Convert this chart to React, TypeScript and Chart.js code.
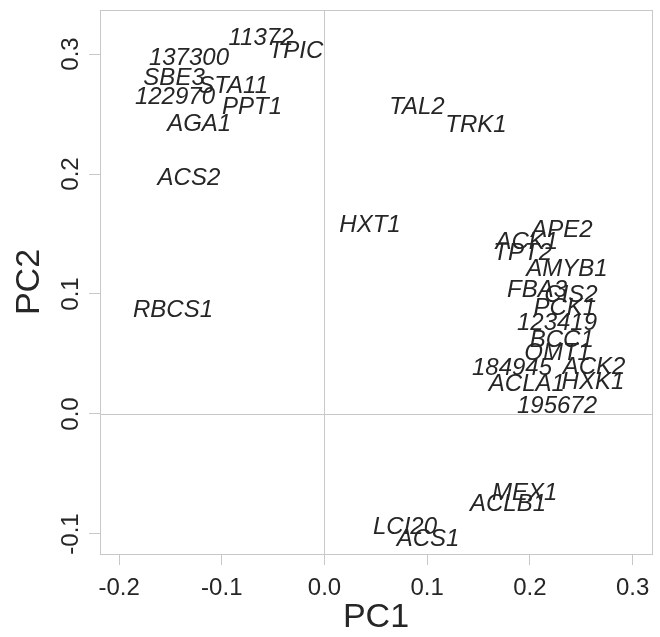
import React, { useEffect, useRef } from "react";
import { Chart, registerables } from "chart.js";
Chart.register(...registerables);

const genes = [
  "11372", "TPIC", "137300", "SBE3", "STA11", "122970", "PPT1", "AGA1",
  "ACS2", "RBCS1", "TAL2", "TRK1", "HXT1", "APE2", "ACK1", "TPT2",
  "AMYB1", "FBA3", "CIS2", "PCK1", "123419", "BCC1", "OMT1", "184945",
  "ACK2", "ACLA1", "HXK1", "195672", "MEX1", "ACLB1", "LCI20", "ACS1",
];
const pc1 = [
  -0.0618, -0.0278, -0.132, -0.1465, -0.089, -0.1456, -0.0706, -0.122,
  -0.132, -0.1475, 0.09, 0.1475, 0.0443, 0.2313, 0.197, 0.193,
  0.236, 0.207, 0.24, 0.234, 0.2264, 0.231, 0.227, 0.1826,
  0.2624, 0.197, 0.2614, 0.2264, 0.195, 0.1787, 0.0784, 0.1008,
];
const pc2 = [
  0.314, 0.303, 0.297, 0.281, 0.274, 0.265, 0.256, 0.2425,
  0.1975, 0.0875, 0.256, 0.2417, 0.158, 0.154, 0.144, 0.135,
  0.1217, 0.104, 0.1, 0.089, 0.0767, 0.0625, 0.0517, 0.039,
  0.04, 0.0258, 0.0275, 0.0075, -0.065, -0.0742, -0.094, -0.1033,
];
const xTickValues = [-0.2, -0.1, 0, 0.1, 0.2, 0.3];
const xTickLabels = ["-0.2", "-0.1", "0.0", "0.1", "0.2", "0.3"];
const yTickValues = [-0.1, 0, 0.1, 0.2, 0.3];
const yTickLabels = ["-0.1", "0.0", "0.1", "0.2", "0.3"];
const xRange = [-0.2186, 0.3189];
const yRange = [-0.1167, 0.3367];
const xTitle = "PC1";
const yTitle = "PC2";

const FONT = "'Liberation Sans', Arial, Helvetica, sans-serif";
const TEXT = "#262626";
const LINE = "#c8c8c8";

export default function App() {
  const ref = useRef<HTMLCanvasElement>(null);
  useEffect(() => {
    const plugin = {
      id: "pcaText",
      beforeDatasetsDraw(chart: any) {
        const { ctx, chartArea: a, scales } = chart;
        ctx.save();
        ctx.strokeStyle = LINE;
        ctx.lineWidth = 1;
        const x0 = Math.round(scales.x.getPixelForValue(0)) + 0.5;
        const y0 = Math.round(scales.y.getPixelForValue(0)) + 0.5;
        ctx.beginPath();
        ctx.moveTo(x0, a.top);
        ctx.lineTo(x0, a.bottom);
        ctx.moveTo(a.left, y0);
        ctx.lineTo(a.right, y0);
        ctx.stroke();
        ctx.strokeRect(Math.round(a.left) + 0.5, Math.round(a.top) + 0.5, Math.round(a.right - a.left), Math.round(a.bottom - a.top));
        ctx.restore();
      },
      afterDatasetsDraw(chart: any) {
        const { ctx, chartArea: a, scales } = chart;
        const meta = chart.getDatasetMeta(0);
        ctx.save();
        ctx.fillStyle = TEXT;
        ctx.textAlign = "center";
        ctx.textBaseline = "middle";
        ctx.font = `italic 24px ${FONT}`;
        meta.data.forEach((el: any, i: number) => {
          ctx.fillText(genes[i], el.x, el.y + 1);
        });
        // x tick labels
        ctx.font = `24px ${FONT}`;
        xTickValues.forEach((v, i) => {
          ctx.fillText(xTickLabels[i], scales.x.getPixelForValue(v), 588);
        });
        // y tick labels rotated
        yTickValues.forEach((v, i) => {
          ctx.save();
          ctx.translate(71, scales.y.getPixelForValue(v));
          ctx.rotate(-Math.PI / 2);
          ctx.fillText(yTickLabels[i], 0, 0);
          ctx.restore();
        });
        // titles
        ctx.font = `34px ${FONT}`;
        ctx.fillText(xTitle, (a.left + a.right) / 2, 618);
        ctx.save();
        ctx.translate(30, (a.top + a.bottom) / 2);
        ctx.rotate(-Math.PI / 2);
        ctx.fillText(yTitle, 0, 0);
        ctx.restore();
        ctx.restore();
      },
    };
    const chart = new Chart(ref.current as HTMLCanvasElement, {
      type: "scatter",
      data: {
        datasets: [
          {
            data: pc1.map((x, i) => ({ x, y: pc2[i] })),
            pointRadius: 0,
            pointHoverRadius: 0,
          },
        ],
      },
      options: {
        animation: false,
        responsive: false,
        events: [],
        plugins: { legend: { display: false }, tooltip: { enabled: false } },
        layout: { padding: { left: 0, right: 8, top: 10, bottom: 0 } },
        scales: {
          x: {
            type: "linear",
            min: xRange[0],
            max: xRange[1],
            afterBuildTicks: (s: any) => {
              s.ticks = xTickValues.map((v) => ({ value: v }));
            },
            afterFit: (s: any) => {
              s.height = 83;
            },
            ticks: { display: false },
            grid: { drawOnChartArea: false, drawTicks: true, tickLength: 11, color: LINE },
            border: { display: false },
          },
          y: {
            type: "linear",
            min: yRange[0],
            max: yRange[1],
            afterBuildTicks: (s: any) => {
              s.ticks = yTickValues.map((v) => ({ value: v }));
            },
            afterFit: (s: any) => {
              s.width = 100;
            },
            ticks: { display: false },
            grid: { drawOnChartArea: false, drawTicks: true, tickLength: 11, color: LINE },
            border: { display: false },
          },
        },
      } as any,
      plugins: [plugin],
    });
    return () => chart.destroy();
  }, []);
  return (
    <div style={{ position: "fixed", left: 0, top: 0, width: 660, height: 637, background: "#fff" }}>
      <canvas ref={ref} width={660} height={637} style={{ display: "block" }} />
    </div>
  );
}
